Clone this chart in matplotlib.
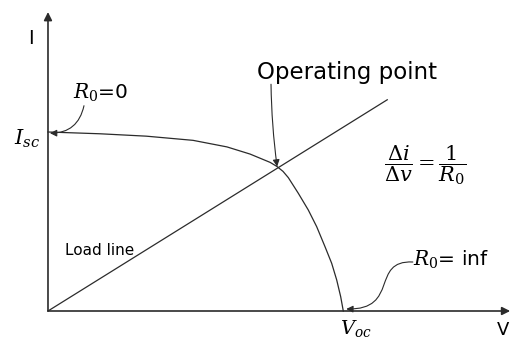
import matplotlib

matplotlib.use("Agg")
import matplotlib.pyplot as plt
from matplotlib.patches import FancyArrowPatch
from matplotlib.path import Path

plt.rcParams["font.family"] = ["DejaVu Sans"]
plt.rcParams["mathtext.fontset"] = "dejavuserif"

# I-V characteristic of the cell (volts, amps)
curve_v = [0.0, 0.106, 0.200, 0.295, 0.364, 0.411, 0.452, 0.466, 0.478, 0.4888, 0.5091,
           0.5294, 0.5465, 0.5634, 0.5770, 0.5872, 0.5953, 0.6006]
curve_i = [3.00, 2.97, 2.93, 2.86, 2.75, 2.63, 2.49, 2.42, 2.34, 2.235, 1.973,
           1.693, 1.413, 1.078, 0.799, 0.520, 0.240, 0.0]

# load line end points
load_v = [0.0, 0.69]
load_i = [0.0, 3.54]

# operating point, short-circuit current, open-circuit voltage
op_v, op_i = 0.466, 2.42
isc = 3.00
voc = 0.6006

ink = "#2b2b2b"

fig = plt.figure(figsize=(5.11, 3.38), dpi=100)
ax = fig.add_axes([0, 0, 1, 1])
ax.set_xlim(-0.0976, 0.9417)
ax.set_ylim(-0.4525, 5.212)
ax.axis("off")

# axes with arrow heads
ax.annotate("", xy=(0, 5.01), xytext=(0, 0),
            arrowprops=dict(arrowstyle="-|>", color=ink, lw=1.2, mutation_scale=12,
                            shrinkA=0, shrinkB=0))
ax.annotate("", xy=(0.94, 0), xytext=(0, 0),
            arrowprops=dict(arrowstyle="-|>", color=ink, lw=1.2, mutation_scale=12,
                            shrinkA=0, shrinkB=0))
ax.text(-0.0346, 4.56, "I", fontsize=14, ha="center", va="center", color="black")
ax.text(0.925, -0.17, "V", fontsize=13, ha="center", va="top", color="black")

ax.plot(curve_v, curve_i, color=ink, lw=0.9, solid_joinstyle="round")
ax.plot(load_v, load_i, color=ink, lw=0.9)

ax.text(-0.043, isc - 0.12, r"$I_{sc}$", fontsize=15, ha="center", va="center")
ax.text(voc + 0.025, -0.30, r"$V_{oc}$", fontsize=14, ha="center", va="center")

# R0 = 0 at the short-circuit point
ax.text(0.0508, 3.65, r"$R_0$=0", fontsize=14.5, ha="left", va="center")
ax.annotate("", xy=(0.004, isc - 0.02), xytext=(0.0732, 3.44),
            arrowprops=dict(arrowstyle="-|>", color=ink, lw=0.8, mutation_scale=10,
                            shrinkA=0, shrinkB=0, connectionstyle="arc3,rad=-0.4"))

# operating point
ax.text(0.608, 3.99, "Operating point", fontsize=16.5, ha="center", va="center")
ax.annotate("", xy=(op_v, op_i), xytext=(0.4536, 3.80),
            arrowprops=dict(arrowstyle="-|>", color=ink, lw=0.8, mutation_scale=10,
                            shrinkA=0, shrinkB=0, connectionstyle="arc3,rad=0.03"))

ax.text(0.767, 2.45, r"$\dfrac{\Delta i}{\Delta v} = \dfrac{1}{R_0}$", fontsize=15,
        ha="center", va="center")

ax.text(0.0346, 1.02, "Load line", fontsize=11, ha="left", va="center")

# R0 = inf at the open-circuit point
ax.text(0.742, 0.855, r"$R_0$= inf", fontsize=14.5, ha="left", va="center")
s_path = Path([(0.742, 0.821), (0.655, 0.855), (0.716, 0.017), (voc + 0.006, 0.034)],
              [Path.MOVETO, Path.CURVE4, Path.CURVE4, Path.CURVE4])
ax.add_patch(FancyArrowPatch(path=s_path, arrowstyle="-|>", color=ink, lw=0.8,
                             mutation_scale=10))

fig.savefig("out.png", dpi=100)
